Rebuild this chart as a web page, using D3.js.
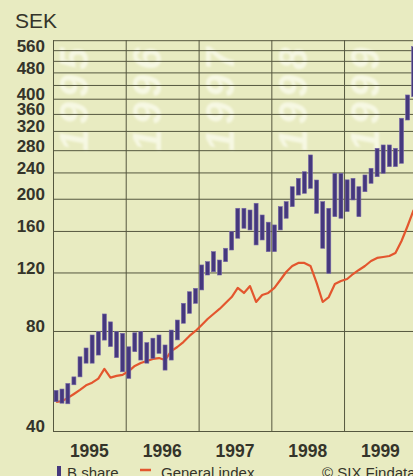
<!DOCTYPE html>
<html>
<head>
<meta charset="utf-8">
<script src="https://cdn.jsdelivr.net/npm/d3@7"></script>
<style>
  html, body { margin: 0; padding: 0; background: #e8ebc1; overflow: hidden; }
  svg { display: block; }
  text { font-family: "Liberation Sans", Arial, sans-serif; }
</style>
</head>
<body>
<script>
// monthly B share high / low and the general index (SEK, log scale)
var months = [
  "1995-01","1995-02","1995-03","1995-04","1995-05","1995-06","1995-07","1995-08","1995-09","1995-10","1995-11","1995-12",
  "1996-01","1996-02","1996-03","1996-04","1996-05","1996-06","1996-07","1996-08","1996-09","1996-10","1996-11","1996-12",
  "1997-01","1997-02","1997-03","1997-04","1997-05","1997-06","1997-07","1997-08","1997-09","1997-10","1997-11","1997-12",
  "1998-01","1998-02","1998-03","1998-04","1998-05","1998-06","1998-07","1998-08","1998-09","1998-10","1998-11","1998-12",
  "1999-01","1999-02","1999-03","1999-04","1999-05","1999-06","1999-07","1999-08","1999-09","1999-10","1999-11","1999-12"
];
var shareHigh = [
  53, 53.5, 55.6, 58.2, 66.9, 71.1, 77.8, 79.6, 90, 85.2, 79.6, 78.7,
  71.7, 79, 79.6, 73.8, 76.1, 77.8, 72.6, 80.5, 86.3, 96.9, 105, 107.5,
  126.4, 129.3, 138.6, 130.8, 141.9, 159.2, 187.2, 187.2, 185, 193.8, 178.7, 170,
  166.8, 189.3, 196, 217.4, 230.4, 241.2, 270.9, 227.7, 196, 187.2, 238.6, 238.6,
  228, 230.4, 217.4, 235.8, 247, 283.7, 290.3, 290.3, 283.7, 349.3, 410.5, 573.7
];
var shareLow = [
  49, 48.5, 48.3, 55.1, 58.2, 64, 64, 67.7, 75.1, 71.8, 66.5, 60.3,
  57.6, 69.3, 65.4, 64, 66.2, 68.5, 61, 65.4, 75.2, 84.4, 90.4, 96.9,
  106.3, 117.9, 120.6, 117.9, 129.3, 140.2, 152.1, 163, 161.1, 145.2, 150.3, 138.6,
  138.6, 161.1, 174.7, 189.3, 205.2, 207.7, 215, 180.8, 141.9, 119.3, 176.6, 174.7,
  183, 198.3, 176.6, 210, 222.6, 233, 238.6, 249.8, 249.8, 255.7, 345.1, 405.7
];
var generalIndex = [
  48.9, 49.2, 50.3, 51.7, 53.2, 54.9, 55.9, 57.5, 61.5, 57.9, 58.6, 59,
  60.6, 62.8, 64.1, 65, 65.9, 66.3, 65.4, 69.6, 71.6, 74.1, 77.3, 80,
  83.4, 86.9, 90, 93.2, 97.1, 101.2, 107.8, 104.1, 109.2, 97.8, 102.6, 104.1,
  107.8, 113.9, 120.4, 125.5, 128.2, 128.2, 125.5, 111.6, 97.8, 101.2, 110.8, 113.1,
  114.7, 118.7, 122.1, 125.5, 129.9, 132.7, 133.6, 134.5, 137.3, 149.2, 165.6, 185
];
var years = ["1995", "1996", "1997", "1998", "1999"];
var gridValues = [40, 80, 120, 160, 200, 240, 280, 320, 360, 400, 440, 480, 520, 560, 600];
var tickLabels = [40, 80, 120, 160, 200, 240, 280, 320, 360, 400, 480, 560];

var svgWidth = 413;
var svgHeight = 476;

var plot = { left: 53, right: 416.75, top: 40.2, bottom: 431 };

var svg = d3.select("body")
  .append("svg")
  .attr("width", svgWidth)
  .attr("height", svgHeight);

svg.append("rect")
  .attr("width", svgWidth)
  .attr("height", svgHeight)
  .attr("fill", "#e8ebc1");

var parseMonth = d3.timeParse("%Y-%m");
var parseYear = d3.timeParse("%Y");

var x = d3.scaleTime()
  .domain([parseYear("1995"), parseYear("2000")])
  .range([plot.left, plot.right]);

var y = d3.scaleLog()
  .domain([40, 600])
  .range([plot.bottom, plot.top]);

function monthCenter(m) {
  var d = parseMonth(m);
  return (x(d) + x(d3.timeMonth.offset(d, 1))) / 2;
}

var defs = svg.append("defs");
defs.append("filter").attr("id", "soft")
  .append("feGaussianBlur").attr("stdDeviation", 1.2);

// big white year watermarks behind the grid
svg.append("g")
  .attr("filter", "url(#soft)")
  .selectAll("text")
  .data(years)
  .enter()
  .append("text")
  .attr("transform", d => `translate(${x(parseYear(d)) + 21}, 97) rotate(-90)`)
  .attr("text-anchor", "middle")
  .attr("dy", "0.36em")
  .style("font-size", "40px")
  .style("font-weight", "bold")
  .style("font-style", "italic")
  .style("letter-spacing", "5px")
  .attr("fill", "#fbfcee")
  .attr("opacity", 0.75)
  .text(d => d);

// horizontal grid
svg.append("g")
  .attr("transform", `translate(${plot.left},0)`)
  .call(d3.axisLeft(y).tickValues(gridValues).tickSize(-(svgWidth - plot.left)).tickFormat(""))
  .call(g => g.select(".domain").remove())
  .call(g => g.selectAll("line").attr("stroke", "#55573f").attr("stroke-width", 1));

// vertical year lines
svg.append("g")
  .attr("transform", `translate(0,${plot.bottom})`)
  .call(d3.axisBottom(x).tickValues(years.map(parseYear)).tickSize(-(plot.bottom - plot.top)).tickFormat(""))
  .call(g => g.select(".domain").remove())
  .call(g => g.selectAll("line").attr("stroke", "#55573f").attr("stroke-width", 1));

// y tick labels
svg.append("g")
  .attr("transform", `translate(45,0)`)
  .call(d3.axisLeft(y).tickValues(tickLabels).tickSize(0).tickPadding(0).tickFormat(d3.format("d")))
  .call(g => g.select(".domain").remove())
  .call(g => g.selectAll("text")
    .attr("dy", "0.05em")
    .attr("fill", "#34342a")
    .style("font-size", "17px")
    .style("font-weight", "bold"));

// year labels
svg.append("g")
  .selectAll("text")
  .data(years)
  .enter()
  .append("text")
  .attr("x", d => (x(parseYear(d)) + x(parseYear(String(+d + 1)))) / 2)
  .attr("y", 457)
  .attr("text-anchor", "middle")
  .attr("fill", "#34342a")
  .style("font-size", "17.5px")
  .style("font-weight", "bold")
  .text(d => d);

svg.append("text")
  .attr("x", 15)
  .attr("y", 28)
  .attr("fill", "#34342a")
  .style("font-size", "21px")
  .text("SEK");

// general index line
var indexLine = d3.line()
  .x((d, i) => monthCenter(months[i]))
  .y(d => y(d));

svg.append("path")
  .datum(generalIndex)
  .attr("d", indexLine)
  .attr("fill", "none")
  .attr("stroke", "#e3562e")
  .attr("stroke-width", 2.2)
  .attr("stroke-linejoin", "round");

// B share high-low bars
var barWidth = 4;
svg.append("g")
  .selectAll("rect")
  .data(months)
  .enter()
  .append("rect")
  .attr("x", d => monthCenter(d) - barWidth / 2)
  .attr("y", (d, i) => y(shareHigh[i]))
  .attr("width", barWidth)
  .attr("height", (d, i) => y(shareLow[i]) - y(shareHigh[i]))
  .attr("fill", "#45387e")
  .attr("stroke", "#7565a6")
  .attr("stroke-width", 0.6);

// legend
var legend = svg.append("g");
legend.append("rect")
  .attr("x", 57).attr("y", 466)
  .attr("width", 4).attr("height", 12)
  .attr("fill", "#45387e");
legend.append("text")
  .attr("x", 67).attr("y", 478)
  .attr("fill", "#34342a")
  .style("font-size", "15px")
  .text("B share");
legend.append("line")
  .attr("x1", 140).attr("x2", 151)
  .attr("y1", 470).attr("y2", 470)
  .attr("stroke", "#e3562e")
  .attr("stroke-width", 2.5);
legend.append("text")
  .attr("x", 161).attr("y", 478)
  .attr("fill", "#34342a")
  .style("font-size", "15px")
  .text("General index");
legend.append("text")
  .attr("x", 322).attr("y", 478)
  .attr("fill", "#34342a")
  .style("font-size", "15px")
  .text("© SIX Findata");
</script>
</body>
</html>
